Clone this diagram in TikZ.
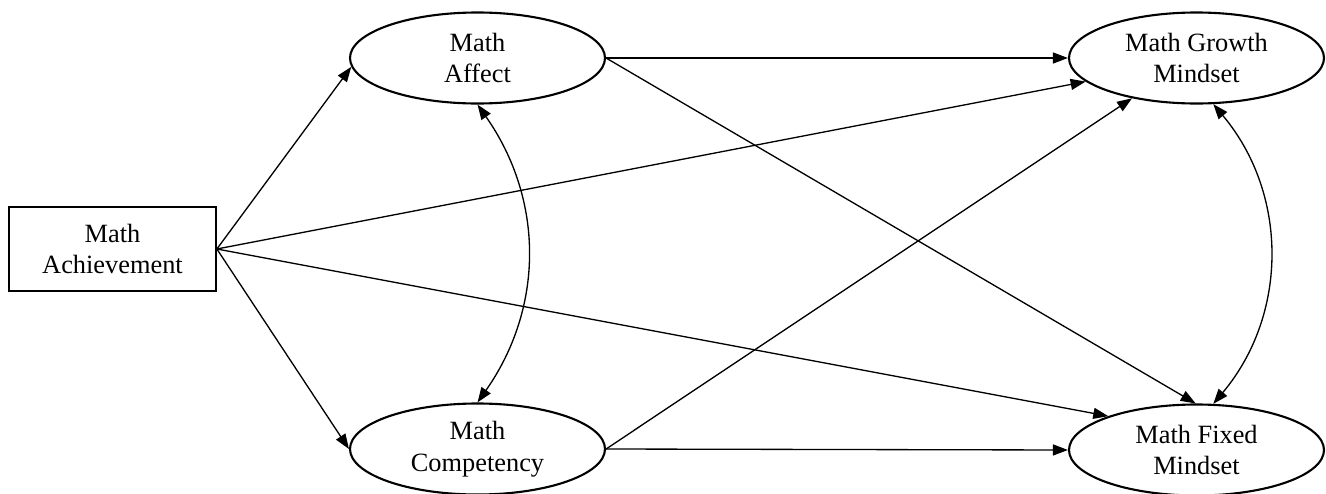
\documentclass[tikz,border=0pt]{standalone}
\usepackage{fontspec}
\setmainfont{Liberation Serif}
\usetikzlibrary{arrows.meta,shapes.geometric}

\newcommand*{\xleft}{2.25}
\newcommand*{\xmid}{9.55}
\newcommand*{\xright}{23.93}

\begin{document}
\begin{tikzpicture}
[
	observed/.style={rectangle,draw,line width=1pt,minimum width=4.14cm,minimum height=1.68cm,align=center,font=\fontsize{15}{18}\selectfont},
	latent/.style={ellipse,draw,line width=1.2pt,minimum width=5.1cm,minimum height=1.82cm,inner sep=0pt,align=center,font=\fontsize{15}{18}\selectfont},
	path/.style={line width=0.75pt,-{Triangle[length=3mm,width=2.2mm]}},
	covpath/.style={line width=0.75pt,{Triangle[length=3mm,width=2.2mm]}-{Triangle[length=3mm,width=2.2mm]}}
]

	\useasboundingbox (0,0) rectangle (26.52,9.86);

	% variables
	\node[observed] at (\xleft,4.88) (ach) {Math\\Achievement};
	\node[latent] at (\xmid,8.70) (aff) {Math\\Affect};
	\node[latent] at (\xmid,0.88) (comp) {Math\\Competency};
	\node[latent] at (\xright,8.70) (gro) {Math Growth\\Mindset};
	\node[latent] at (\xright,0.86) (fix) {Math Fixed\\Mindset};

	% paths from achievement
	\draw[path] (ach.east) -- (aff.184);
	\draw[path] (ach.east) -- (comp.west);
	\draw[path] (ach.east) -- (gro.192);
	\draw[path] (ach.east) -- (fix.159);

	% paths to mindsets
	\draw[path] (aff.east) -- (gro.west);
	\draw[path] (aff.east) -- (fix.91);
	\draw[path] (comp.east) -- (gro.212);
	\draw[path] (comp.east) -- (fix.west);

	% covariances
	\draw[covpath] (aff.south) to[bend left=35] (comp.north);
	\draw[covpath] (gro.-70) to[bend left=40] (fix.70);

\end{tikzpicture}
\end{document}
